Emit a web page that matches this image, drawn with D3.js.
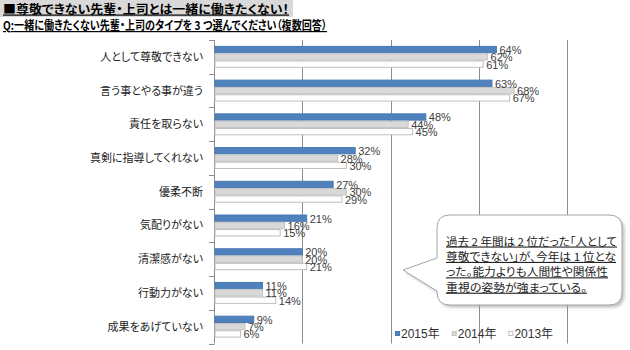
<!DOCTYPE html>
<html><head><meta charset="utf-8">
<script src="https://cdn.jsdelivr.net/npm/d3@7"></script>
<style>
body{margin:0;background:#fff;}
svg text{font-feature-settings:"palt";}
</style></head><body><svg id="c" width="630" height="350"></svg>
<script>
const categories = ["人として尊敬できない","言う事とやる事が違う","責任を取らない","真剣に指導してくれない","優柔不断","気配りがない","清潔感がない","行動力がない","成果をあげていない"];
const seriesNames = ["2015年","2014年","2013年"];
const values2015 = [64,63,48,32,27,21,20,11,9];
const values2014 = [62,68,44,28,30,16,20,11,7];
const values2013 = [61,67,45,30,29,15,21,14,6];
const xTicks = [0,20,40,60,80];
const titleText = "■尊敬できない先輩・上司とは一緒に働きたくない！";
const questionText = "Q:一緒に働きたくない先輩・上司のタイプを 3 つ選んでください（複数回答）";
const noteLines = ["過去 2 年間は 2 位だった「人として","尊敬できない」が、今年は 1 位とな","った。能力よりも人間性や関係性","重視の姿勢が強まっている。"];

const seriesValues = [values2015, values2014, values2013];
const fills = ["#4f81bd","#d9d9d9","#ffffff"];
const strokes = ["#4a7ab3","#c4c4c4","#bfbfbf"];
const jp = "'Noto Sans CJK JP', sans-serif";
const lat = "'Liberation Sans', Arial, 'Noto Sans CJK JP', sans-serif";

const svg = d3.select("#c");
svg.append("rect").attr("width",630).attr("height",350).attr("fill","#fff");

function setLen(sel, w){ sel.attr("textLength", w).attr("lengthAdjust","spacingAndGlyphs"); }

// title
svg.append("rect").attr("x",0).attr("y",0).attr("width",293).attr("height",17).attr("fill","#d9d9d9");
const t1 = svg.append("text").attr("x",3).attr("y",13.5).attr("font-family",jp).attr("font-size",12)
  .attr("font-weight","bold").attr("text-decoration","underline").attr("fill","#000").text(titleText);
setLen(t1, 286);
const t2 = svg.append("text").attr("x",3).attr("y",30).attr("font-family",jp).attr("font-size",12)
  .attr("font-weight","bold").attr("text-decoration","underline").attr("fill","#000").text(questionText);
setLen(t2, 324);

const x = d3.scaleLinear().domain([0,80]).range([214,567]);
const y = d3.scaleBand().domain(categories).range([40,343.5]).paddingInner(0.35).paddingOuter(0.175);
const sub = d3.scaleBand().domain(seriesNames).range([0,y.bandwidth()]);

// gridlines
svg.append("g").selectAll("line").data(xTicks.filter(d=>d>0)).join("line")
  .attr("x1",d=>Math.round(x(d))+0.5).attr("x2",d=>Math.round(x(d))+0.5)
  .attr("y1",40).attr("y2",343.5).attr("stroke","#8c8c8c").attr("stroke-width",1);

// axis
const bounds = categories.map(c => y(c) - y.step()*y.paddingInner()/2).concat([343.5]);
const ax = svg.append("g");
ax.append("line").attr("x1",x(0)+0.5).attr("x2",x(0)+0.5).attr("y1",40).attr("y2",343.5).attr("stroke","#8c8c8c");
ax.selectAll("line.tk").data(bounds).join("line").attr("class","tk")
  .attr("x1",x(0)-5).attr("x2",x(0)+0.5).attr("y1",d=>Math.round(d)+0.5).attr("y2",d=>Math.round(d)+0.5).attr("stroke","#8c8c8c");
ax.selectAll("text").data(categories).join("text")
  .attr("x",203).attr("y",c=>y(c)+y.bandwidth()/2+4).attr("text-anchor","end")
  .attr("font-family",jp).attr("font-size",11).attr("fill","#222").text(c=>c);

// bars
seriesNames.forEach((s,si)=>{
  const g = svg.append("g");
  g.selectAll("rect").data(categories).join("rect")
    .attr("x",x(0)+1).attr("y",(c)=>y(c)+sub(s)+0.5)
    .attr("width",(c,i)=>x(seriesValues[si][i])-x(0)-1).attr("height",sub.bandwidth()-1)
    .attr("fill",fills[si]).attr("stroke",strokes[si]).attr("stroke-width",1);
});
seriesNames.forEach((s,si)=>{
  svg.append("g").selectAll("text").data(categories).join("text")
    .attr("x",(c,i)=>x(seriesValues[si][i])+3)
    .attr("y",(c)=>y(c)+sub(s)+sub.bandwidth()/2+4.5)
    .attr("font-family",lat).attr("font-size",11).attr("fill","#404040")
    .text((c,i)=>seriesValues[si][i]+"%");
});

// legend
let lx = 395;
seriesNames.forEach((s,si)=>{
  svg.append("rect").attr("x",lx+0.5).attr("y",331.5).attr("width",4).attr("height",4)
    .attr("fill",fills[si]).attr("stroke",strokes[si]);
  const tt = svg.append("text").attr("x",lx+6).attr("y",338).attr("font-family",lat).attr("font-size",12)
    .attr("fill","#333").text(s);
  lx = lx + 6 + tt.node().getComputedTextLength() + 12;
});

// callout
const defs = svg.append("defs");
const f = defs.append("filter").attr("id","sh").attr("x","-10%").attr("y","-10%").attr("width","130%").attr("height","130%");
f.append("feGaussianBlur").attr("stdDeviation",1.5);
const bx0=437, by0=215, bx1=622, by1=305, r=13;
const p = `M${bx0+r},${by0} H${bx1-r} Q${bx1},${by0} ${bx1},${by0+r} V${by1-r} Q${bx1},${by1} ${bx1-r},${by1} H${bx0+r} Q${bx0},${by1} ${bx0},${by1-r} V291 L403,270 L${bx0},258 V${by0+r} Q${bx0},${by0} ${bx0+r},${by0} Z`;
svg.append("path").attr("d",p).attr("transform","translate(2.5,2.5)").attr("fill","#9a9a9a").attr("opacity",0.6).attr("filter","url(#sh)");
svg.append("path").attr("d",p).attr("fill","#fff").attr("stroke","#a6a6a6").attr("stroke-width",1);
const noteW = [171,170,162,141];
noteLines.forEach((l,i)=>{
  const tt = svg.append("text").attr("x",446).attr("y",245.5+i*15.4).attr("font-family",jp).attr("font-size",11)
    .attr("fill","#222").attr("text-decoration","underline").text(l);
  setLen(tt, noteW[i]);
});
</script></body></html>
